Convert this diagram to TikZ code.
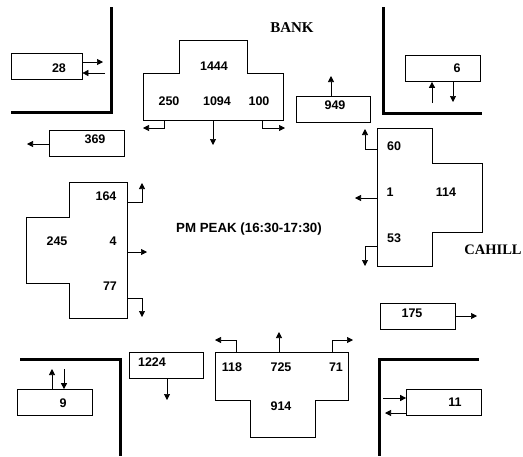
\documentclass[tikz,border=0pt]{standalone}
\usepackage{fontspec}
\setmainfont{Liberation Sans}
\newfontfamily\streetfont{Liberation Serif}
\usetikzlibrary{arrows.meta}

\begin{document}
\begin{tikzpicture}[x=1pt, y=-1pt,
    every node/.style={inner sep=0pt, font=\fontsize{12.5}{14}\selectfont\bfseries},
    countbox/.style={draw, line width=0.7pt, minimum width=75pt, minimum height=26pt},
    turn/.style={line width=0.7pt, -{Triangle[length=6pt, width=6pt]}},
    curb/.style={line width=3pt},
    approach/.style={draw, line width=0.7pt},
    street/.style={font=\fontsize{15}{17}\selectfont\streetfont\bfseries}]
    \useasboundingbox (0,0) rectangle (523,456);

    % kerb corners
    \draw[curb] (111,7) -- (111,112) -- (11,112);
    \draw[curb] (383,7) -- (383,113) -- (482,113);
    \draw[curb] (20,359) -- (120,359) -- (120,456);
    \draw[curb] (479,359) -- (379,359) -- (379,456);

    % street names
    \node[street] (bank) at (292,28) {BANK};
    \node[street, font=\fontsize{14.5}{17}\selectfont\streetfont\bfseries] (cahill) at (493,250) {CAHILL};
    \node[font=\fontsize{13.3}{15}\selectfont\bfseries] (peak) at (249,229) {PM PEAK (16:30-17:30)};

    % approaches
    \draw[approach] (179,40) -- (247,40) -- (247,73) -- (283,73) -- (283,120)
        -- (143,120) -- (143,73) -- (179,73) -- cycle;
    \draw[approach] (377,128) -- (432,128) -- (432,163) -- (482,163) -- (482,232)
        -- (432,232) -- (432,266) -- (377,266) -- cycle;
    \draw[approach] (69,182) -- (127,182) -- (127,318) -- (69,318) -- (69,283)
        -- (26,283) -- (26,217) -- (69,217) -- cycle;
    \draw[approach] (215,352) -- (348,352) -- (348,400) -- (315,400) -- (315,437)
        -- (250,437) -- (250,400) -- (215,400) -- cycle;

    \node (bank-tot) at (214,66) {1444};
    \node (bank-l)   at (169,101) {250};
    \node (bank-t)   at (217,101) {1094};
    \node (bank-r)   at (259,101) {100};

    \node (cah-r)   at (394,146) {60};
    \node (cah-t)   at (390,192) {1};
    \node (cah-tot) at (446,192) {114};
    \node (cah-l)   at (394,238) {53};

    \node (west-l)   at (106,196) {164};
    \node (west-tot) at (57,241) {245};
    \node (west-t)   at (113,241) {4};
    \node (west-r)   at (110,286) {77};

    \node (south-l)   at (232,367) {118};
    \node (south-t)   at (281,367) {725};
    \node (south-r)   at (336,367) {71};
    \node (south-tot) at (281,406) {914};

    % turning arrows
    \coordinate (bank-lo) at (164,120); \coordinate (bank-le) at (143,128);
    \coordinate (bank-to) at (213,120); \coordinate (bank-te) at (213,145);
    \coordinate (bank-ro) at (262,120); \coordinate (bank-re) at (285,128);
    \draw[turn] (bank-lo) |- (bank-le);
    \draw[turn] (bank-to) -- (bank-te);
    \draw[turn] (bank-ro) |- (bank-re);

    \coordinate (cah-ro) at (377,149); \coordinate (cah-re) at (365,129);
    \coordinate (cah-to) at (377,198); \coordinate (cah-te) at (355,198);
    \coordinate (cah-lo) at (377,246); \coordinate (cah-le) at (365,266);
    \draw[turn] (cah-ro) -| (cah-re);
    \draw[turn] (cah-to) -- (cah-te);
    \draw[turn] (cah-lo) -| (cah-le);

    \coordinate (west-lo) at (127,202); \coordinate (west-le) at (142,183);
    \coordinate (west-to) at (127,252); \coordinate (west-te) at (147,252);
    \coordinate (west-ro) at (127,298); \coordinate (west-re) at (142,317);
    \draw[turn] (west-lo) -| (west-le);
    \draw[turn] (west-to) -- (west-te);
    \draw[turn] (west-ro) -| (west-re);

    \coordinate (south-lo) at (236,352); \coordinate (south-le) at (215,340);
    \coordinate (south-to) at (279,352); \coordinate (south-te) at (279,332);
    \coordinate (south-ro) at (332,352); \coordinate (south-re) at (353,340);
    \draw[turn] (south-lo) |- (south-le);
    \draw[turn] (south-to) -- (south-te);
    \draw[turn] (south-ro) |- (south-re);

    % count boxes
    \node[countbox, minimum width=71pt] (b28) at (46.5,66.5) {};
    \node[countbox] (b369)  at (87,143) {};
    \node[countbox, minimum width=74pt] (b949)  at (333,109) {};
    \node[countbox] (b6)    at (443,68.5) {};
    \node[countbox] (b175)  at (417.5,316) {};
    \node[countbox] (b11)   at (444,402.5) {};
    \node[countbox] (b9)    at (54.5,402.5) {};
    \node[countbox, minimum width=74pt] (b1224) at (166,365.5) {};

    \node (t28)   at (59,68)   {28};
    \node (t369)  at (95,139)  {369};
    \node (t949)  at (335,105) {949};
    \node (t6)    at (457,68)  {6};
    \node (t175)  at (412,313) {175};
    \node (t11)   at (455,402) {11};
    \node (t9)    at (63,403)  {9};
    \node (t1224) at (152,362) {1224};

    \coordinate (o28) at (103,62);   \coordinate (i28) at (105,73);
    \draw[turn] (b28.east |- o28) -- (o28);
    \draw[turn] (i28) -- (b28.east |- i28);
    \coordinate (o369) at (27,144);
    \draw[turn] (b369.west |- o369) -- (o369);
    \coordinate (o949) at (331,76);
    \draw[turn] (b949.north -| o949) -- (o949);
    \coordinate (i6) at (432,103);   \coordinate (o6) at (453,102);
    \draw[turn] (i6) -- (b6.south -| i6);
    \draw[turn] (b6.south -| o6) -- (o6);
    \coordinate (o175) at (477,316);
    \draw[turn] (b175.east |- o175) -- (o175);
    \coordinate (i11) at (383,398);  \coordinate (o11) at (385,413);
    \draw[turn] (i11) -- (b11.west |- i11);
    \draw[turn] (b11.west |- o11) -- (o11);
    \coordinate (o9) at (52,369);    \coordinate (i9) at (64,369);
    \draw[turn] (b9.north -| o9) -- (o9);
    \draw[turn] (i9) -- (b9.north -| i9);
    \coordinate (o1224) at (167,400);
    \draw[turn] (b1224.south -| o1224) -- (o1224);
\end{tikzpicture}
\end{document}
